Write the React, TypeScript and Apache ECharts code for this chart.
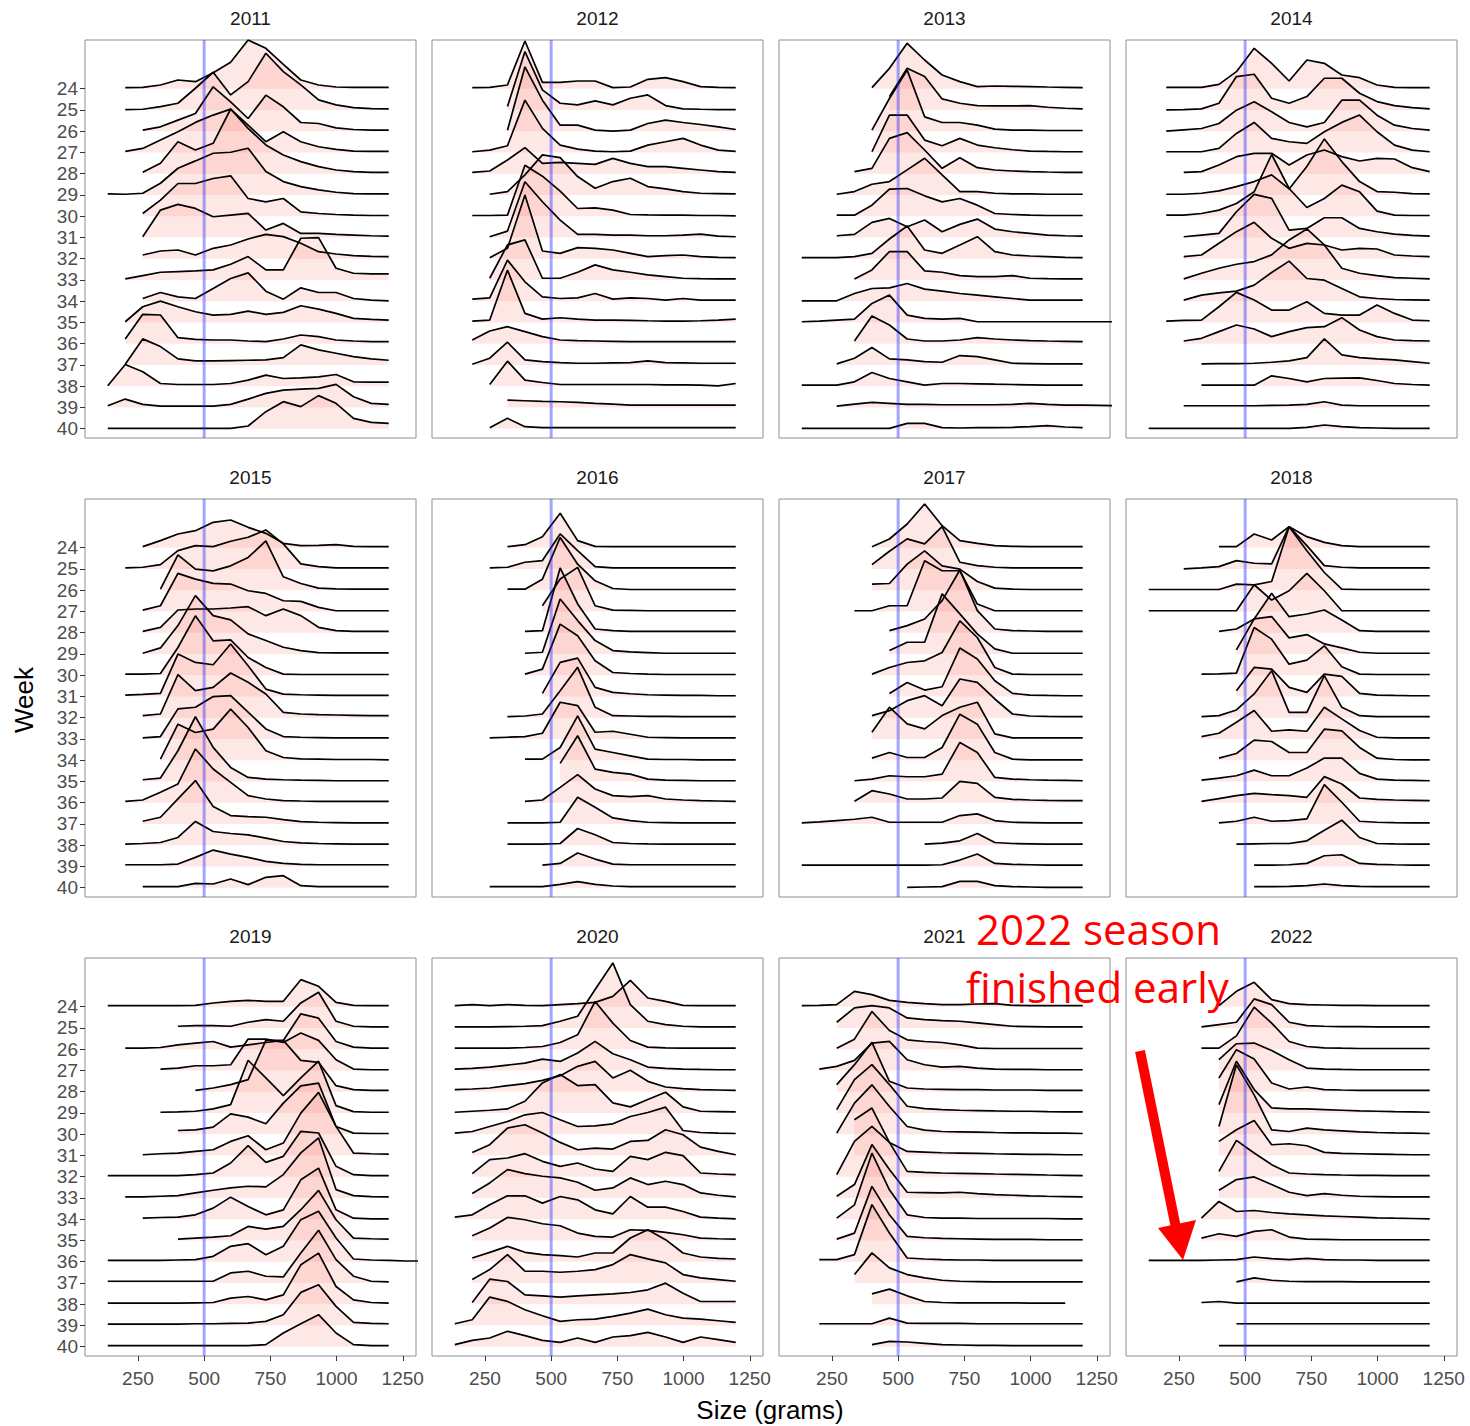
import { useEffect, useRef } from "react";
import * as echarts from "echarts";

// ---------- data ----------
const YEARS = ["2011", "2012", "2013", "2014", "2015", "2016", "2017", "2018", "2019", "2020", "2021", "2022"];
const WEEKS = [24, 25, 26, 27, 28, 29, 30, 31, 32, 33, 34, 35, 36, 37, 38, 39, 40];
// size (grams) of the frequency-polygon vertices
const SIZES = [136, 202, 268, 335, 401, 467, 534, 600, 666, 733, 799, 865, 932, 998, 1064, 1131, 1197, 1263, 1330];
const X_TICKS = [250, 500, 750, 1000, 1250];
const THRESHOLD = 500;
// density scale: this many density units equal one week row
const ROW_SPACING = 63.75;

// each ridge: [first vertex index, density at each following vertex...], weeks 24..40
const Y2011 = [
  [1, 3, 4, 11, 26, 21, 48, 79, 146, 121, 73, 26, 11, 5, 4, 4, 4],
  [1, 1, 2, 10, 20, 65, 113, 45, 85, 170, 115, 75, 30, 15, 7, 4, 3],
  [2, 3, 13, 33, 53, 133, 88, 38, 108, 73, 26, 23, 10, 5, 3, 3],
  [1, 3, 12, 37, 62, 90, 112, 130, 82, 32, 62, 32, 17, 9, 4, 3, 3],
  [2, 4, 31, 96, 71, 91, 194, 136, 86, 56, 36, 21, 11, 6, 4, 4],
  [0, 3, 2, 5, 35, 80, 102, 125, 128, 140, 70, 40, 25, 15, 8, 4, 3, 3],
  [2, 8, 48, 98, 98, 113, 121, 53, 43, 53, 13, 8, 5, 3, 2, 2],
  [2, 2, 82, 99, 87, 62, 67, 72, 22, 42, 12, 12, 9, 7, 5, 4],
  [2, 11, 23, 26, 11, 31, 41, 59, 73, 66, 46, 21, 14, 9, 7, 6],
  [1, 3, 13, 23, 25, 27, 30, 47, 70, 30, 30, 125, 127, 35, 20, 18, 18],
  [2, 8, 26, 13, 8, 38, 68, 85, 30, 6, 40, 26, 26, 8, 3, 1],
  [1, 2, 47, 64, 47, 32, 22, 24, 34, 24, 30, 50, 40, 27, 12, 9, 7],
  [1, 14, 88, 86, 18, 13, 11, 11, 8, 6, 14, 26, 21, 11, 8, 6, 6],
  [1, 2, 78, 55, 18, 12, 12, 13, 14, 15, 22, 60, 45, 35, 25, 18, 14],
  [0, 1, 65, 43, 8, 5, 5, 5, 8, 18, 33, 23, 25, 28, 35, 13, 12, 12],
  [0, 5, 25, 9, 4, 4, 4, 4, 9, 25, 42, 52, 55, 57, 69, 32, 12, 9],
  [0, 1, 1, 1, 1, 1, 1, 1, 1, 8, 51, 81, 66, 99, 76, 31, 19, 16],
];
const Y2012 = [
  [1, 3, 4, 11, 143, 19, 19, 23, 23, 3, 5, 28, 33, 21, 6, 4, 3],
  [3, 10, 175, 60, 20, 15, 27, 15, 35, 45, 13, 3, 2, 1, 1],
  [3, 3, 193, 93, 18, 18, 3, 0, 3, 23, 33, 26, 20, 13, 5],
  [1, 2, 7, 20, 157, 72, 22, 10, 4, 2, 4, 22, 32, 42, 22, 7, 3],
  [1, 4, 8, 41, 78, 31, 34, 31, 28, 46, 31, 21, 21, 16, 11, 6, 4],
  [2, 2, 10, 60, 120, 112, 55, 20, 40, 50, 25, 18, 10, 5, 4, 3],
  [1, 2, 2, 3, 153, 120, 75, 23, 25, 18, 5, 4, 3, 3, 2, 2, 1],
  [2, 2, 19, 167, 107, 52, 9, 9, 7, 7, 5, 5, 7, 10, 4, 2],
  [2, 3, 31, 191, 23, 16, 33, 31, 26, 16, 6, 9, 11, 6, 4, 3],
  [2, 5, 105, 120, 5, 5, 23, 45, 30, 23, 15, 10, 5, 4, 3, 3],
  [1, 6, 10, 123, 58, 13, 8, 10, 23, 6, 10, 8, 3, 8, 3, 3, 3],
  [1, 4, 7, 157, 27, 10, 14, 10, 7, 7, 6, 5, 4, 4, 5, 7, 10],
  [1, 11, 38, 51, 36, 21, 11, 9, 8, 7, 6, 6, 6, 6, 6, 6, 6],
  [1, 2, 20, 68, 15, 10, 7, 5, 5, 6, 7, 12, 7, 6, 5, 5, 5],
  [2, 5, 75, 18, 11, 5, 5, 5, 5, 5, 5, 4, 4, 3, 1, 8],
  [3, 22, 20, 18, 17, 15, 12, 10, 7, 7, 7, 7, 7, 7, 7],
  [2, 3, 31, 6, 3, 3, 3, 3, 3, 3, 3, 3, 3, 3, 3, 3],
];
const Y2013 = [
  [4, 3, 61, 136, 86, 41, 21, 6, 8, 7, 6, 5, 4, 3],
  [5, 40, 125, 100, 33, 20, 13, 12, 12, 13, 8, 5, 3],
  [4, 3, 98, 183, 43, 26, 26, 18, 6, 3, 3, 2, 2, 2],
  [4, 2, 112, 112, 37, 20, 42, 22, 14, 8, 4, 3, 2, 2],
  [3, 6, 16, 106, 123, 71, 16, 48, 18, 11, 8, 6, 5, 4, 4],
  [2, 2, 10, 32, 40, 75, 110, 60, 10, 10, 5, 3, 3, 2, 2, 2],
  [2, 3, 3, 33, 81, 83, 61, 43, 53, 33, 8, 5, 3, 2, 2, 2],
  [2, 5, 9, 45, 57, 32, 52, 17, 39, 55, 25, 17, 12, 7, 5, 4],
  [0, 3, 3, 3, 6, 16, 59, 98, 26, 16, 41, 66, 21, 11, 8, 6, 4, 3],
  [3, 3, 30, 85, 85, 27, 23, 13, 10, 10, 13, 5, 4, 3, 3],
  [0, 1, 1, 1, 23, 38, 40, 53, 36, 30, 23, 18, 13, 8, 3, 3, 3, 3],
  [0, 2, 4, 7, 10, 57, 82, 22, 12, 10, 12, 2, 2, 2, 2, 2, 2, 2, 2, 2],
  [3, 8, 83, 56, 14, 8, 8, 11, 18, 14, 11, 9, 8, 7, 6],
  [2, 3, 20, 52, 18, 15, 10, 8, 28, 25, 15, 5, 4, 3, 3, 3],
  [0, 3, 3, 3, 13, 41, 23, 13, 3, 8, 8, 7, 6, 5, 4, 3, 3, 3],
  [2, 4, 10, 15, 12, 9, 9, 8, 8, 8, 8, 9, 12, 9, 7, 7, 6, 5],
  [0, 1, 1, 1, 1, 1, 1, 16, 16, 3, 2, 3, 3, 4, 6, 9, 5, 3],
];
const Y2014 = [
  [1, 4, 4, 4, 13, 51, 121, 76, 23, 86, 76, 41, 33, 11, 4, 3, 3],
  [1, 0, 1, 3, 20, 100, 107, 35, 20, 40, 95, 95, 50, 25, 13, 7, 3],
  [1, 0, 4, 8, 23, 63, 88, 58, 26, 13, 26, 93, 93, 48, 18, 8, 3],
  [1, 2, 2, 2, 12, 57, 90, 42, 32, 27, 62, 90, 112, 62, 22, 7, 2],
  [2, 4, 6, 26, 51, 61, 61, 26, 56, 71, 51, 38, 46, 44, 18, 6],
  [1, 2, 2, 5, 12, 25, 40, 60, 18, 85, 168, 100, 40, 10, 8, 4, 3],
  [1, 3, 3, 8, 18, 38, 73, 185, 83, 26, 53, 93, 73, 15, 3, 2, 2],
  [2, 2, 7, 12, 77, 129, 117, 22, 27, 59, 59, 27, 17, 10, 6, 4],
  [2, 6, 11, 46, 81, 109, 61, 31, 46, 41, 26, 31, 29, 11, 8, 6],
  [2, 3, 20, 35, 47, 55, 75, 120, 153, 105, 35, 20, 13, 7, 5, 3],
  [2, 3, 18, 25, 30, 48, 86, 120, 68, 63, 38, 13, 8, 5, 4, 3],
  [1, 4, 6, 7, 47, 90, 67, 37, 37, 62, 27, 22, 22, 52, 27, 7, 5],
  [2, 8, 16, 36, 56, 44, 21, 36, 48, 51, 78, 41, 21, 11, 9, 8],
  [3, 3, 4, 4, 5, 8, 12, 22, 78, 30, 22, 18, 15, 10, 5],
  [3, 3, 3, 3, 3, 31, 23, 13, 23, 24, 25, 17, 8, 5, 3],
  [2, 5, 5, 5, 5, 5, 6, 7, 9, 17, 7, 5, 5, 5, 5, 5],
  [0, 1, 1, 1, 1, 1, 1, 1, 1, 1, 4, 11, 6, 3, 2, 1, 1, 1],
];
const Y2015 = [
  [2, 3, 21, 41, 51, 76, 83, 61, 43, 13, 6, 7, 9, 4, 3, 3],
  [1, 3, 5, 13, 55, 70, 67, 83, 95, 117, 75, 15, 7, 3, 3, 3, 3],
  [3, 3, 106, 63, 58, 73, 98, 148, 40, 20, 6, 4, 3, 3, 3],
  [2, 4, 17, 114, 97, 84, 82, 62, 54, 32, 30, 12, 2, 2, 2, 2],
  [2, 4, 16, 68, 71, 71, 74, 78, 51, 71, 51, 16, 6, 4, 4, 4],
  [2, 2, 18, 85, 175, 115, 102, 60, 40, 20, 10, 4, 3, 3, 3, 3],
  [1, 3, 3, 5, 83, 178, 103, 106, 53, 23, 3, 2, 2, 2, 2, 2, 2],
  [1, 4, 6, 9, 127, 102, 95, 157, 92, 22, 7, 5, 4, 3, 3, 3, 3],
  [2, 6, 11, 129, 81, 91, 134, 106, 71, 16, 11, 9, 8, 7, 6, 6],
  [2, 3, 7, 90, 95, 127, 130, 80, 30, 7, 5, 4, 3, 3, 3, 3],
  [3, 3, 108, 83, 93, 153, 98, 28, 8, 4, 3, 2, 2, 2, 1],
  [2, 5, 10, 92, 194, 102, 42, 12, 7, 5, 4, 3, 2, 2, 2, 2],
  [1, 4, 8, 31, 56, 161, 101, 61, 21, 11, 6, 5, 4, 4, 4, 4, 4],
  [2, 8, 20, 75, 130, 52, 25, 22, 20, 13, 7, 5, 4, 3, 3, 3],
  [1, 3, 5, 8, 23, 71, 41, 35, 31, 21, 11, 7, 5, 4, 3, 3, 3],
  [1, 5, 5, 5, 7, 27, 49, 37, 27, 15, 9, 6, 5, 5, 5, 5, 5],
  [2, 3, 3, 3, 13, 11, 26, 9, 31, 36, 6, 3, 3, 3, 3, 3],
];
const Y2016 = [
  [3, 3, 9, 33, 103, 21, 4, 3, 3, 3, 3, 3, 3, 3, 3],
  [2, 3, 5, 20, 25, 105, 55, 7, 3, 3, 3, 3, 3, 3, 3, 3],
  [3, 3, 3, 33, 158, 78, 28, 5, 2, 2, 2, 2, 2, 2, 2],
  [5, 17, 97, 132, 17, 4, 3, 2, 2, 2, 2, 2, 2],
  [4, 4, 6, 194, 86, 11, 6, 4, 4, 4, 4, 4, 4, 4],
  [4, 2, 5, 165, 100, 40, 10, 6, 4, 2, 2, 2, 2, 2],
  [4, 3, 18, 153, 118, 43, 8, 5, 3, 2, 2, 2, 2, 2],
  [5, 9, 102, 115, 27, 12, 8, 5, 4, 3, 3, 2, 2],
  [3, 3, 5, 11, 81, 151, 31, 6, 5, 4, 4, 3, 3, 3, 3],
  [2, 3, 5, 7, 17, 110, 100, 20, 23, 14, 5, 4, 3, 3, 3, 3],
  [4, 3, 3, 38, 133, 33, 23, 13, 3, 2, 2, 1, 1, 1],
  [6, 54, 137, 37, 27, 22, 7, 4, 3, 2, 2, 2],
  [4, 4, 8, 46, 84, 41, 21, 18, 21, 11, 8, 6, 5, 4],
  [3, 3, 3, 3, 5, 80, 50, 18, 10, 5, 4, 3, 3, 3, 3],
  [3, 3, 3, 3, 5, 50, 31, 8, 5, 4, 3, 3, 3, 3, 3],
  [5, 4, 9, 40, 22, 7, 5, 5, 5, 5, 5, 5, 5],
  [2, 3, 3, 3, 3, 10, 18, 10, 5, 3, 3, 3, 3, 3, 3, 3],
];
const Y2017 = [
  [4, 3, 26, 71, 131, 66, 21, 13, 6, 4, 3, 3, 3, 3],
  [4, 13, 53, 90, 75, 127, 20, 10, 5, 3, 3, 3, 3, 3],
  [4, 18, 20, 78, 118, 73, 63, 26, 6, 3, 2, 2, 2, 2],
  [3, 2, 2, 17, 17, 152, 122, 122, 22, 2, 2, 2, 2, 2, 2],
  [5, 6, 21, 41, 96, 188, 66, 11, 6, 5, 4, 4, 4],
  [5, 10, 35, 35, 180, 120, 60, 15, 2, 2, 2, 2, 2],
  [4, 3, 23, 38, 43, 68, 163, 113, 23, 3, 2, 2, 2, 2],
  [5, 9, 42, 19, 29, 145, 112, 47, 9, 4, 3, 2, 2],
  [4, 6, 21, 51, 66, 36, 116, 106, 56, 11, 5, 4, 3, 3],
  [4, 20, 95, 45, 30, 70, 95, 110, 15, 3, 3, 3, 3, 3],
  [4, 6, 23, 8, 8, 38, 138, 108, 23, 3, 1, 1, 1, 1],
  [3, 2, 7, 17, 14, 14, 22, 117, 87, 12, 7, 5, 4, 3, 2],
  [3, 4, 36, 26, 11, 11, 14, 64, 58, 16, 10, 8, 7, 6, 6],
  [0, 3, 6, 10, 14, 20, 5, 5, 5, 5, 25, 30, 10, 5, 4, 3, 3, 3],
  [7, 3, 6, 13, 35, 8, 5, 4, 3, 3, 3],
  [0, 4, 4, 4, 4, 4, 4, 4, 4, 5, 19, 37, 9, 6, 5, 4, 4, 4],
  [6, 1, 2, 3, 19, 19, 6, 3, 2, 1, 1, 1],
];
const Y2018 = [
  [4, 3, 3, 41, 23, 63, 33, 16, 6, 3, 3, 3, 3, 3],
  [2, 0, 3, 7, 25, 17, 15, 127, 70, 10, 5, 3, 3, 3, 3, 3],
  [0, 2, 2, 2, 2, 2, 18, 16, 26, 190, 118, 53, 3, 2, 2, 2, 2, 2],
  [0, 2, 2, 2, 2, 2, 2, 80, 34, 62, 114, 62, 2, 2, 2, 2, 2, 2],
  [4, 4, 11, 41, 118, 48, 56, 68, 38, 6, 4, 4, 4, 4],
  [5, 12, 105, 112, 48, 58, 30, 18, 5, 2, 2, 2, 2],
  [3, 3, 4, 6, 143, 108, 33, 45, 88, 25, 3, 2, 2, 2, 2],
  [5, 17, 87, 82, 27, 12, 67, 60, 9, 4, 3, 2, 2],
  [3, 3, 6, 23, 71, 141, 16, 16, 126, 31, 6, 3, 3, 3, 3],
  [3, 7, 17, 50, 85, 23, 27, 23, 95, 60, 25, 5, 3, 3, 3],
  [4, 6, 20, 60, 56, 23, 23, 93, 88, 38, 6, 2, 1, 1],
  [3, 4, 10, 17, 34, 17, 17, 40, 70, 70, 24, 7, 4, 3, 2],
  [3, 4, 12, 21, 28, 24, 21, 16, 78, 56, 14, 10, 8, 7, 6],
  [4, 3, 8, 20, 8, 10, 15, 118, 65, 8, 5, 4, 3, 3],
  [5, 3, 4, 5, 5, 13, 45, 75, 23, 5, 4, 3, 3],
  [6, 4, 4, 5, 9, 32, 35, 9, 6, 5, 4, 4],
  [6, 3, 3, 4, 6, 11, 6, 4, 3, 3, 3, 3],
];
const Y2019 = [
  [0, 3, 3, 3, 3, 3, 4, 11, 16, 19, 16, 16, 81, 61, 13, 4, 3, 3],
  [4, 5, 7, 7, 5, 17, 25, 20, 75, 107, 20, 5, 3, 3],
  [1, 3, 3, 5, 13, 18, 23, 6, 13, 20, 26, 106, 93, 23, 6, 3, 3],
  [3, 4, 7, 14, 14, 17, 94, 94, 84, 112, 90, 32, 4, 2, 2],
  [5, 4, 11, 21, 36, 154, 154, 94, 88, 18, 6, 4, 4],
  [3, 2, 3, 5, 12, 25, 158, 105, 52, 105, 155, 22, 4, 2, 2],
  [4, 11, 13, 21, 61, 51, 31, 93, 145, 153, 23, 3, 2, 2],
  [2, 2, 5, 7, 12, 17, 42, 59, 17, 37, 127, 189, 87, 7, 5, 4],
  [0, 3, 3, 3, 3, 3, 6, 11, 41, 93, 43, 61, 136, 131, 31, 6, 3, 3],
  [1, 3, 3, 5, 7, 15, 23, 30, 35, 33, 70, 135, 180, 25, 7, 4, 3],
  [2, 3, 5, 6, 13, 33, 66, 38, 13, 28, 118, 153, 28, 3, 1, 1],
  [4, 4, 7, 10, 14, 42, 34, 42, 92, 150, 62, 7, 5, 4],
  [0, 4, 4, 4, 4, 5, 6, 16, 46, 54, 21, 46, 126, 151, 71, 8, 5, 4, 2, 2],
  [0, 5, 5, 5, 5, 5, 5, 5, 30, 35, 20, 18, 90, 158, 70, 20, 5, 3],
  [0, 3, 3, 3, 3, 3, 4, 5, 18, 23, 13, 28, 118, 153, 53, 13, 5, 3],
  [0, 4, 4, 4, 4, 4, 5, 5, 6, 7, 12, 32, 99, 122, 57, 9, 6, 5],
  [0, 3, 3, 3, 3, 3, 3, 3, 3, 3, 6, 41, 69, 96, 41, 6, 3, 3],
];
const Y2020 = [
  [0, 3, 6, 3, 6, 4, 3, 6, 9, 13, 31, 79, 26, 16, 4, 3, 3, 3],
  [0, 3, 3, 3, 4, 5, 7, 20, 35, 115, 195, 70, 20, 10, 5, 3, 3, 3],
  [0, 3, 3, 3, 3, 5, 8, 20, 43, 143, 78, 26, 6, 4, 3, 3, 3, 3],
  [0, 4, 6, 10, 16, 22, 34, 27, 52, 87, 50, 32, 10, 6, 4, 3, 2, 2],
  [0, 6, 8, 11, 18, 24, 34, 48, 76, 91, 41, 64, 31, 14, 9, 6, 5, 4],
  [0, 2, 5, 8, 12, 35, 90, 115, 82, 85, 30, 18, 40, 62, 18, 5, 4, 3],
  [0, 3, 8, 23, 38, 58, 65, 43, 23, 25, 31, 53, 65, 81, 11, 5, 3, 2],
  [1, 9, 32, 82, 92, 67, 39, 17, 22, 19, 42, 45, 77, 62, 25, 12, 2],
  [1, 9, 51, 56, 69, 46, 31, 41, 23, 16, 61, 51, 73, 63, 11, 8, 6],
  [1, 13, 45, 85, 73, 65, 60, 47, 23, 30, 60, 40, 50, 40, 15, 8, 3],
  [0, 6, 13, 43, 70, 70, 48, 68, 58, 28, 16, 68, 36, 36, 23, 6, 3, 1],
  [1, 14, 37, 69, 62, 50, 44, 22, 12, 10, 32, 30, 24, 17, 7, 5, 4],
  [1, 11, 28, 46, 28, 21, 18, 14, 26, 26, 71, 96, 66, 26, 14, 10, 8],
  [1, 10, 40, 85, 35, 35, 32, 35, 40, 55, 85, 72, 60, 25, 15, 10, 5],
  [1, 5, 75, 68, 28, 25, 21, 25, 28, 31, 35, 43, 63, 33, 8, 8, 8],
  [0, 5, 17, 85, 72, 47, 29, 12, 17, 19, 27, 37, 49, 32, 22, 19, 14, 9],
  [0, 6, 19, 26, 46, 33, 19, 13, 26, 13, 29, 33, 43, 29, 13, 29, 21, 13],
];
const Y2021 = [
  [0, 3, 4, 6, 46, 36, 19, 13, 9, 6, 6, 8, 9, 4, 3, 3, 3, 3],
  [2, 17, 60, 67, 60, 30, 25, 22, 20, 15, 10, 5, 4, 3, 3, 3],
  [2, 3, 30, 113, 56, 28, 23, 20, 13, 3, 2, 2, 2, 2, 2, 2],
  [1, 4, 12, 30, 82, 87, 32, 17, 10, 12, 7, 4, 3, 3, 2, 2, 2],
  [2, 21, 81, 148, 31, 11, 8, 7, 6, 6, 5, 5, 5, 4, 4, 4],
  [2, 10, 100, 145, 85, 20, 13, 10, 8, 7, 6, 5, 5, 4, 3, 3],
  [2, 3, 93, 148, 83, 23, 12, 8, 7, 6, 5, 4, 4, 3, 3, 2],
  [3, 107, 142, 39, 12, 10, 8, 7, 6, 5, 4, 3, 3, 2, 2],
  [2, 6, 106, 151, 103, 16, 13, 11, 10, 9, 8, 7, 6, 5, 4, 3],
  [2, 5, 40, 160, 85, 17, 16, 15, 17, 13, 10, 8, 6, 5, 4, 3],
  [2, 3, 43, 198, 88, 13, 5, 3, 3, 2, 2, 2, 2, 2, 1, 1],
  [2, 4, 22, 162, 77, 12, 8, 6, 5, 4, 3, 3, 3, 2, 2, 2],
  [1, 6, 6, 21, 171, 86, 11, 8, 6, 5, 5, 4, 4, 4, 4, 4, 4],
  [3, 25, 90, 45, 25, 15, 8, 5, 4, 3, 3, 3, 3, 3, 3],
  [4, 31, 45, 25, 8, 5, 4, 4, 4, 4, 3, 3, 3],
  [1, 5, 5, 5, 5, 22, 7, 6, 6, 6, 5, 5, 5, 5, 5, 5, 5],
  [4, 6, 16, 14, 10, 6, 5, 4, 4, 3, 3, 3, 3, 3],
];
const Y2022 = [
  [4, 3, 46, 73, 21, 9, 6, 5, 4, 4, 3, 3, 3, 3],
  [3, 3, 10, 17, 87, 70, 17, 7, 5, 4, 4, 3, 3, 3, 3],
  [3, 3, 3, 40, 126, 78, 23, 8, 4, 3, 2, 2, 2, 2, 2],
  [4, 32, 80, 82, 60, 32, 7, 4, 3, 2, 2, 2, 2, 2],
  [4, 41, 126, 98, 26, 8, 14, 6, 5, 4, 4, 4, 4, 4],
  [4, 25, 155, 70, 15, 12, 12, 10, 8, 6, 5, 4, 3, 2],
  [4, 23, 208, 118, 13, 8, 18, 13, 10, 7, 5, 4, 3, 2],
  [4, 42, 77, 105, 32, 35, 29, 9, 6, 5, 4, 3, 2, 2],
  [4, 16, 109, 71, 36, 11, 8, 6, 5, 4, 4, 3, 3, 3],
  [4, 23, 55, 63, 40, 17, 7, 13, 8, 5, 4, 3, 3, 3],
  [3, 3, 53, 23, 26, 20, 16, 13, 10, 8, 6, 4, 3, 2, 1],
  [3, 7, 20, 12, 27, 32, 10, 4, 3, 2, 2, 2, 2, 2, 2],
  [0, 4, 4, 4, 4, 5, 6, 14, 9, 6, 10, 6, 5, 5, 4, 4, 4, 4],
  [5, 3, 15, 8, 5, 4, 4, 4, 3, 3, 3, 3, 3],
  [3, 5, 8, 3, 3, 3, 3, 3, 3, 3, 3, 3, 3, 3, 3],
  [5, 5, 5, 5, 5, 5, 5, 5, 5, 5, 5, 5, 5],
  [4, 3, 3, 3, 3, 3, 3, 3, 3, 3, 3, 3, 3, 3],
];
const RIDGES = [Y2011, Y2012, Y2013, Y2014, Y2015, Y2016, Y2017, Y2018, Y2019, Y2020, Y2021, Y2022];

// ---------- layout / style ----------
const COL_LEFT = [85, 432, 779, 1126];
const ROW_TOP = [40, 499, 958];
const PANEL_W = 331;
const PANEL_H = 398;
const X_MIN = 50;
const X_MAX = 1300;
const Y_MIN = -2.29;
const Y_MAX = 16.44;
const FONT = "Liberation Sans, Arial, sans-serif";
const FILL = "rgba(248,118,109,0.24)";

function buildOption() {
  const grid: any[] = [];
  const xAxis: any[] = [];
  const yAxis: any[] = [];
  const series: any[] = [];
  const graphic: any[] = [];
  const rowIdx = WEEKS.map((_, i) => i);

  YEARS.forEach((year, p) => {
    const col = p % 4;
    const row = Math.floor(p / 4);
    const left = COL_LEFT[col];
    const top = ROW_TOP[row];
    const bottomRow = row === 2;
    const firstCol = col === 0;
    grid.push({
      left, top, width: PANEL_W, height: PANEL_H, show: true,
      borderColor: "#8f8f8f", borderWidth: 1, backgroundColor: "transparent",
    });
    xAxis.push({
      type: "value", gridIndex: p, min: X_MIN, max: X_MAX, position: "bottom",
      axisLine: { show: false, onZero: false }, splitLine: { show: false },
      axisTick: { show: bottomRow, length: 5, customValues: X_TICKS, lineStyle: { color: "#333" } },
      axisLabel: {
        show: bottomRow, customValues: X_TICKS, color: "#4d4d4d",
        fontSize: 19, fontFamily: FONT, margin: 13,
        formatter: (v: number) => String(v),
      },
    });
    yAxis.push({
      type: "value", gridIndex: p, inverse: true, min: Y_MIN, max: Y_MAX, position: "left",
      axisLine: { show: false, onZero: false }, splitLine: { show: false },
      axisTick: { show: firstCol, length: 5, customValues: rowIdx, lineStyle: { color: "#333" } },
      axisLabel: {
        show: firstCol, customValues: rowIdx, color: "#4d4d4d",
        fontSize: 19, fontFamily: FONT, margin: 7,
        formatter: (v: number) => String(WEEKS[Math.round(v)]),
      },
    });
    RIDGES[p].forEach((ridge, k) => {
      const start = ridge[0];
      const dens = ridge.slice(1);
      series.push({
        type: "line", xAxisIndex: p, yAxisIndex: p, silent: true,
        symbol: "none", showSymbol: false, clip: true, z: 2,
        data: dens.map((d, j) => [SIZES[start + j], k - d / ROW_SPACING]),
        lineStyle: { color: "#000", width: 1.7 },
        areaStyle: { color: FILL, origin: k },
      });
    });
    series.push({
      type: "line", xAxisIndex: p, yAxisIndex: p, silent: true,
      symbol: "none", showSymbol: false, z: 3,
      data: [[THRESHOLD, Y_MIN], [THRESHOLD, Y_MAX]],
      lineStyle: { color: "rgba(40,40,255,0.42)", width: 3 },
    });
    graphic.push({
      type: "text", x: left + PANEL_W / 2, y: top - 22,
      style: {
        text: year, fill: "#1a1a1a", font: `19px ${FONT}`,
        textAlign: "center", textVerticalAlign: "middle",
      },
    });
  });

  graphic.push({
    type: "text", x: 770, y: 1410,
    style: { text: "Size (grams)", fill: "#000", font: `26px ${FONT}`, textAlign: "center", textVerticalAlign: "middle" },
  });
  graphic.push({
    type: "text", x: 24, y: 700, rotation: Math.PI / 2,
    style: { text: "Week", fill: "#000", font: `26px ${FONT}`, textAlign: "center", textVerticalAlign: "middle" },
  });
  graphic.push({
    type: "text", x: 976, y: 928,
    style: { text: "2022 season", fill: "#ff0000", font: `42px "Open Sans", sans-serif`, textAlign: "left", textVerticalAlign: "middle" },
  });
  graphic.push({
    type: "text", x: 966, y: 986,
    style: { text: "finished early", fill: "#ff0000", font: `42px "Open Sans", sans-serif`, textAlign: "left", textVerticalAlign: "middle" },
  });
  graphic.push({
    type: "line", shape: { x1: 1140, y1: 1051, x2: 1176, y2: 1228 },
    style: { stroke: "#ff0000", lineWidth: 10 },
  });
  graphic.push({
    type: "polygon", shape: { points: [[1158, 1228], [1196, 1220], [1183, 1260]] },
    style: { fill: "#ff0000" },
  });

  return {
    animation: false,
    backgroundColor: "#fff",
    grid, xAxis, yAxis, series, graphic,
  };
}

export default function App() {
  const ref = useRef<HTMLDivElement>(null);
  useEffect(() => {
    if (!ref.current) return;
    const chart = echarts.init(ref.current, null, { renderer: "svg" });
    chart.setOption(buildOption() as any);
    return () => chart.dispose();
  }, []);
  return (
    <div
      ref={ref}
      style={{ position: "absolute", left: 0, top: 0, width: 1470, height: 1426, background: "#fff" }}
    />
  );
}
